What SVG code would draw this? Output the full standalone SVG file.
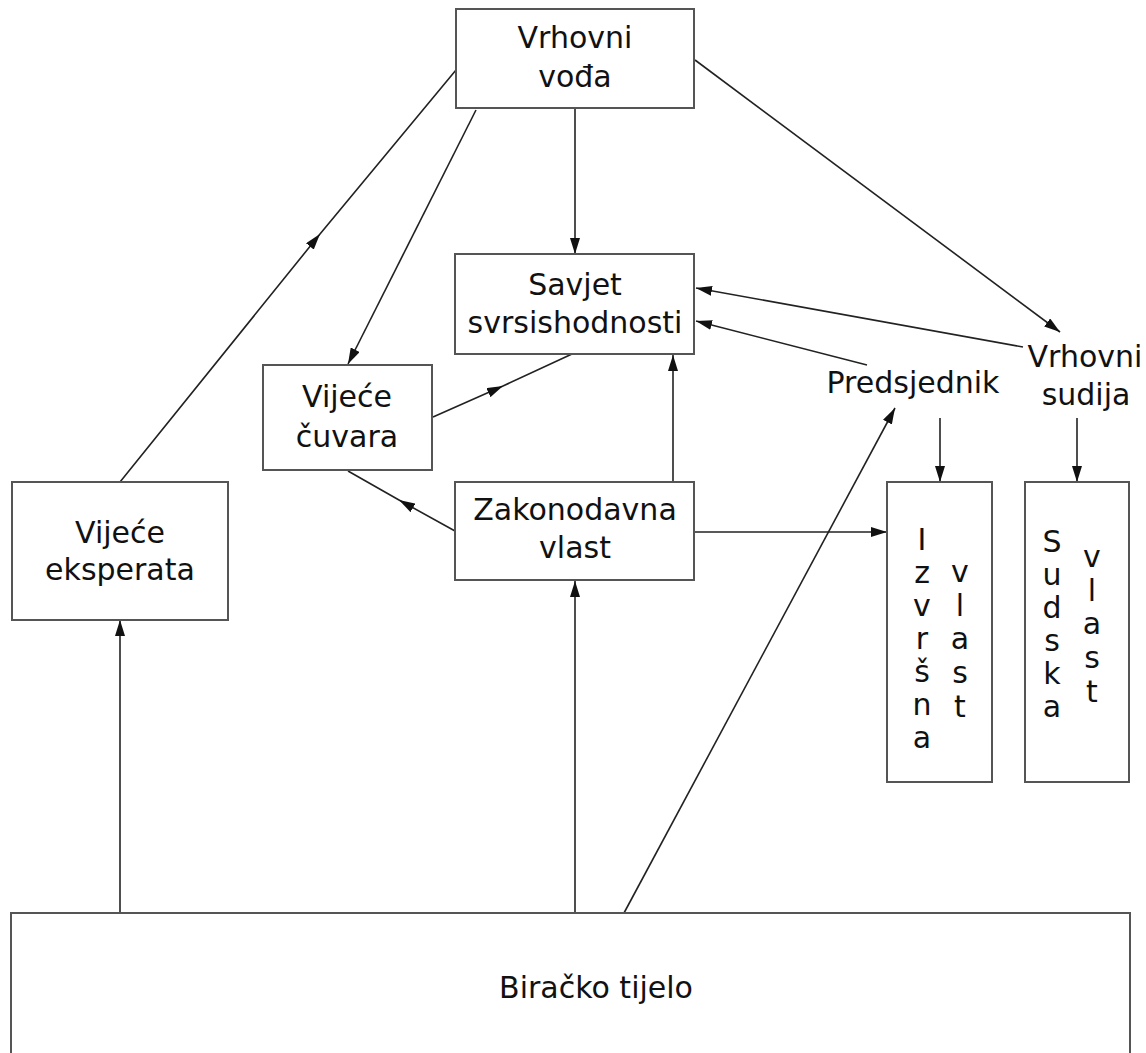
<svg xmlns="http://www.w3.org/2000/svg" width="1146" height="1053" viewBox="0 0 1146 1053">
<style>
.box{fill:#fff;stroke:#555;stroke-width:2}
.t{font-family:"DejaVu Sans","Liberation Sans",sans-serif;font-size:30px;fill:#111;text-anchor:middle}
.c{fill:none;stroke:#222;stroke-width:1.6}
</style>
<defs>
<marker id="ah" viewBox="0 0 16 10" refX="16" refY="5" markerWidth="16" markerHeight="10" markerUnits="userSpaceOnUse" orient="auto">
<path d="M0,0 L16,5 L0,10 z" fill="#111"/>
</marker>
</defs>
<rect width="1146" height="1053" fill="#fff"/>
<g id="connectors">
<path class="c" d="M575,108 L575,254" marker-end="url(#ah)"/>
<path class="c" d="M476,110 L348,364" marker-end="url(#ah)"/>
<path class="c" d="M120,482 L320,234 L456,70" marker-mid="url(#ah)"/>
<path class="c" d="M695,60 L1060,332" marker-end="url(#ah)"/>
<path class="c" d="M1023,347 L696,288" marker-end="url(#ah)"/>
<path class="c" d="M867,365 L696,321" marker-end="url(#ah)"/>
<path class="c" d="M433,417 L503,386 L572,354" marker-mid="url(#ah)"/>
<path class="c" d="M673,482 L673,355" marker-end="url(#ah)"/>
<path class="c" d="M455,531 L399,500 L348,471" marker-mid="url(#ah)"/>
<path class="c" d="M694,532 L887,532" marker-end="url(#ah)"/>
<path class="c" d="M940,418 L940,482" marker-end="url(#ah)"/>
<path class="c" d="M1077,418 L1077,482" marker-end="url(#ah)"/>
<path class="c" d="M120,913 L120,620" marker-end="url(#ah)"/>
<path class="c" d="M575,913 L575,581" marker-end="url(#ah)"/>
<path class="c" d="M624,913 L895,408" marker-end="url(#ah)"/>
</g>
<g id="vrhovni-vodja">
<rect class="box" x="456" y="9" width="238" height="99"/>
<text class="t" x="575" y="48">Vrhovni</text>
<text class="t" x="575" y="87">vođa</text>
</g>
<g id="savjet">
<rect class="box" x="455" y="254" width="239" height="100"/>
<text class="t" x="575" y="295">Savjet</text>
<text class="t" x="575" y="333">svrsishodnosti</text>
</g>
<g id="vijece-cuvara">
<rect class="box" x="263" y="365" width="169" height="105"/>
<text class="t" x="347" y="407">Vijeće</text>
<text class="t" x="347" y="447">čuvara</text>
</g>
<g id="zakonodavna">
<rect class="box" x="455" y="482" width="239" height="98"/>
<text class="t" x="575" y="520">Zakonodavna</text>
<text class="t" x="575" y="558">vlast</text>
</g>
<g id="vijece-eksperata">
<rect class="box" x="12" y="482" width="216" height="138"/>
<text class="t" x="120" y="543">Vijeće</text>
<text class="t" x="120" y="580">eksperata</text>
</g>
<g id="predsjednik">
<text class="t" x="913" y="393">Predsjednik</text>
</g>
<g id="vrhovni-sudija">
<text class="t" x="1085" y="367">Vrhovni</text>
<text class="t" x="1086" y="405">sudija</text>
</g>
<g id="izvrsna-vlast">
<rect class="box" x="887" y="482" width="105" height="300"/>
<text class="t" x="922" y="550">I</text>
<text class="t" x="922" y="583">z</text>
<text class="t" x="922" y="616">v</text>
<text class="t" x="922" y="649">r</text>
<text class="t" x="922" y="682">š</text>
<text class="t" x="922" y="715">n</text>
<text class="t" x="922" y="748">a</text>
<text class="t" x="960" y="582">v</text>
<text class="t" x="960" y="616">l</text>
<text class="t" x="960" y="649">a</text>
<text class="t" x="960" y="683">s</text>
<text class="t" x="960" y="717">t</text>
</g>
<g id="sudska-vlast">
<rect class="box" x="1025" y="482" width="104" height="300"/>
<text class="t" x="1052" y="552">S</text>
<text class="t" x="1052" y="585">u</text>
<text class="t" x="1052" y="618">d</text>
<text class="t" x="1052" y="651">s</text>
<text class="t" x="1052" y="684">k</text>
<text class="t" x="1052" y="717">a</text>
<text class="t" x="1092" y="567">v</text>
<text class="t" x="1092" y="601">l</text>
<text class="t" x="1092" y="634">a</text>
<text class="t" x="1092" y="668">s</text>
<text class="t" x="1092" y="702">t</text>
</g>
<g id="biracko-tijelo">
<rect class="box" x="11" y="913" width="1119" height="145"/>
<text class="t" x="596" y="998">Biračko tijelo</text>
</g>
</svg>
